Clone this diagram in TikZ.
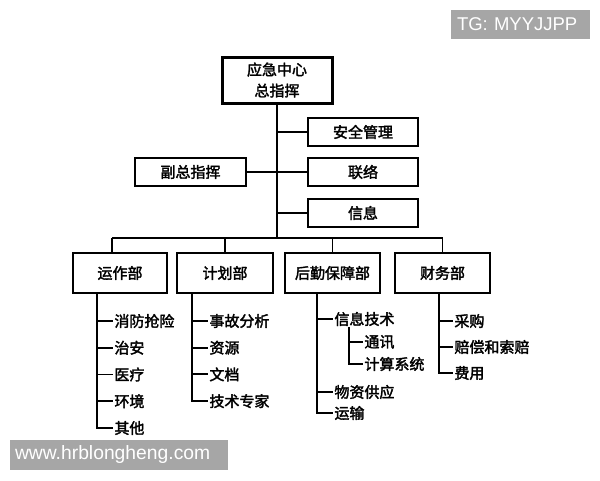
\documentclass[tikz,border=0pt]{standalone}
\usepackage{fontspec}
\newfontfamily\cjk{Noto Sans CJK SC}[FakeBold=2.2]
\newfontfamily\wmfont{Liberation Sans}
\usetikzlibrary{positioning, calc}
\definecolor{wmgray}{HTML}{A6A6A6}

\begin{document}
\begin{tikzpicture}[x=1pt, y=-1pt, line width=1.9pt,
    orgbox/.style={draw, line width=1.9pt, minimum height=28pt, inner sep=0pt,
        font=\cjk\fontsize{15}{21}\selectfont},
    deptbox/.style={orgbox, minimum height=40pt},
    subitem/.style={anchor=west, inner sep=0.5pt, font=\cjk\fontsize{15}{18}\selectfont},
    wmark/.style={fill=wmgray, text=white, inner ysep=0pt, align=left, font=\wmfont\fontsize{18.5}{20}\selectfont}]
    \useasboundingbox (0,0) rectangle (600,480);

    % top of the tree
    \node[orgbox, line width=3pt, minimum width=110pt, minimum height=46pt, align=center] (chief) at (277,80) {应急中心\\总指挥};
    \node[orgbox, minimum width=110pt] (safety) at (363,132) {安全管理};
    \node[orgbox, minimum width=110pt] (liaison) at (363,172) {联络};
    \node[orgbox, minimum width=110pt] (info) at (363,213) {信息};
    \node[orgbox, minimum width=111pt] (deputy) at (190.5,172) {副总指挥};
    \coordinate (bus) at (277,238);
    \draw (chief.south) -- (bus);
    \foreach \n in {safety, liaison, info}
        \draw (chief.south |- \n.west) -- (\n.west);
    \draw (chief.south |- deputy.east) -- (deputy.east);

    % departments
    \node[deptbox, minimum width=94pt] (ops) at (120,273) {运作部};
    \node[deptbox, minimum width=96pt] (plan) at (225,273) {计划部};
    \node[deptbox, minimum width=95pt] (logi) at (332.5,273) {后勤保障部};
    \node[deptbox, minimum width=95pt] (fin) at (442.5,273) {财务部};
    \coordinate (opsdrop) at ($(ops.north)+(-8,0)$);
    \draw (opsdrop |- bus) -- (fin.north |- bus);
    \draw (opsdrop |- bus) -- (opsdrop);
    \foreach \n in {plan, logi, fin}
        \draw (\n.north |- bus) -- (\n.north);

    % operations
    \foreach \t [count=\i] in {消防抢险, 治安, 医疗, 环境, 其他}
        \node[subitem] (ops\i) at (113, {321+26.75*(\i-1)}) {\t};
    \coordinate (opsline) at (97,293);
    \draw (opsline) |- (ops5.west);
    \foreach \i in {1,...,4}
        \draw (opsline |- ops\i.west) -- (ops\i.west);

    % planning
    \foreach \t [count=\i] in {事故分析, 资源, 文档, 技术专家}
        \node[subitem] (plan\i) at (208, {321+26.7*(\i-1)}) {\t};
    \coordinate (planline) at (192,293);
    \draw (planline) |- (plan4.west);
    \foreach \i in {1,...,3}
        \draw (planline |- plan\i.west) -- (plan\i.west);

    % logistics
    \node[subitem] (logi1) at (333,319) {信息技术};
    \node[subitem] (logi2) at (333,392) {物资供应};
    \node[subitem] (logi3) at (333,413) {运输};
    \node[subitem] (it1) at (363,342) {通讯};
    \node[subitem] (it2) at (363,364) {计算系统};
    \coordinate (logiline) at (317,293);
    \coordinate (itline) at (349,327);
    \draw (logiline) |- (logi3.west);
    \foreach \i in {1,2}
        \draw (logiline |- logi\i.west) -- (logi\i.west);
    \draw (itline) |- (it2.west);
    \draw (itline |- it1.west) -- (it1.west);

    % finance
    \foreach \t [count=\i] in {采购, 赔偿和索赔, 费用}
        \node[subitem] (fin\i) at (453, {321+26*(\i-1)}) {\t};
    \coordinate (finline) at (439,293);
    \draw (finline) |- (fin3.west);
    \foreach \i in {1,2}
        \draw (finline |- fin\i.west) -- (fin\i.west);

    % watermarks
    \node[wmark, inner xsep=6pt, text width=127pt, minimum height=29pt] (tg) at (520.5,24.5) {TG: MYYJJPP};
    \node[wmark, inner xsep=5pt, text width=208pt, minimum height=30pt, font=\wmfont\fontsize{19.3}{20}\selectfont] (web) at (119,455) {www.hrblongheng.com};
\end{tikzpicture}
\end{document}
